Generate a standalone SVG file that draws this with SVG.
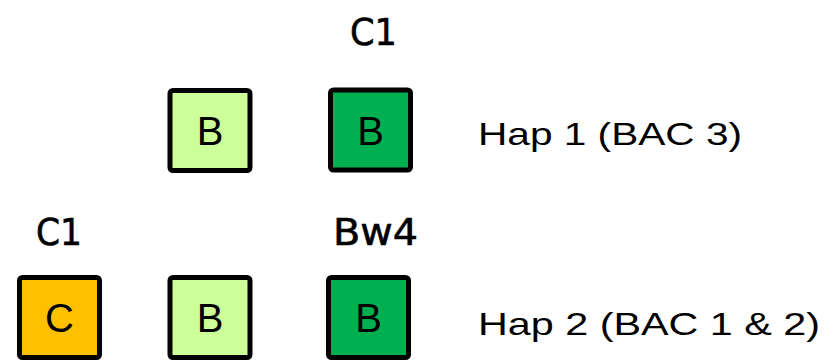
<svg xmlns="http://www.w3.org/2000/svg" width="838" height="361" viewBox="0 0 838 361">
<style>
.box{stroke:#000;stroke-width:5;}
.lt{fill:#ccff99;}
.dk{fill:#00b050;}
.or{fill:#ffc000;}
.bl{font-family:"Liberation Sans",Arial,sans-serif;font-size:40px;text-anchor:middle;fill:#000;}
.hd{font-family:"DejaVu Sans",sans-serif;font-size:37px;fill:#000;stroke:#000;stroke-width:0.6;}
.hap{font-family:"Liberation Sans",Arial,sans-serif;font-size:32px;fill:#000;}
</style>
<rect width="838" height="361" fill="#fff"/>
<g id="connectors"></g>
<g id="hap1-b1"><rect class="box lt" x="170" y="90.5" width="80" height="80" rx="3"/><text class="bl" x="210" y="145">B</text></g>
<g id="hap1-b2"><rect class="box dk" x="330.5" y="90" width="80" height="80" rx="3"/><text class="bl" x="370.5" y="145">B</text></g>
<g id="hap2-c"><rect class="box or" x="19.5" y="277.5" width="80" height="80" rx="3"/><text class="bl" x="59.5" y="332">C</text></g>
<g id="hap2-b1"><rect class="box lt" x="170" y="277.5" width="80" height="80" rx="3"/><text class="bl" x="210" y="332">B</text></g>
<g id="hap2-b2"><rect class="box dk" x="328.5" y="277.5" width="80" height="80" rx="3"/><text class="bl" x="368.5" y="332">B</text></g>
<g id="labels">
<text class="hd" x="350" y="45" textLength="47" lengthAdjust="spacingAndGlyphs">C1</text>
<text class="hd" x="36" y="245" textLength="46" lengthAdjust="spacingAndGlyphs">C1</text>
<text class="hd" x="333" y="245" textLength="85" lengthAdjust="spacingAndGlyphs">Bw4</text>
<text class="hap" x="478" y="145" textLength="264" lengthAdjust="spacingAndGlyphs">Hap 1 (BAC 3)</text>
<text class="hap" x="478" y="335" textLength="342" lengthAdjust="spacingAndGlyphs">Hap 2 (BAC 1 &amp; 2)</text>
</g>
</svg>
